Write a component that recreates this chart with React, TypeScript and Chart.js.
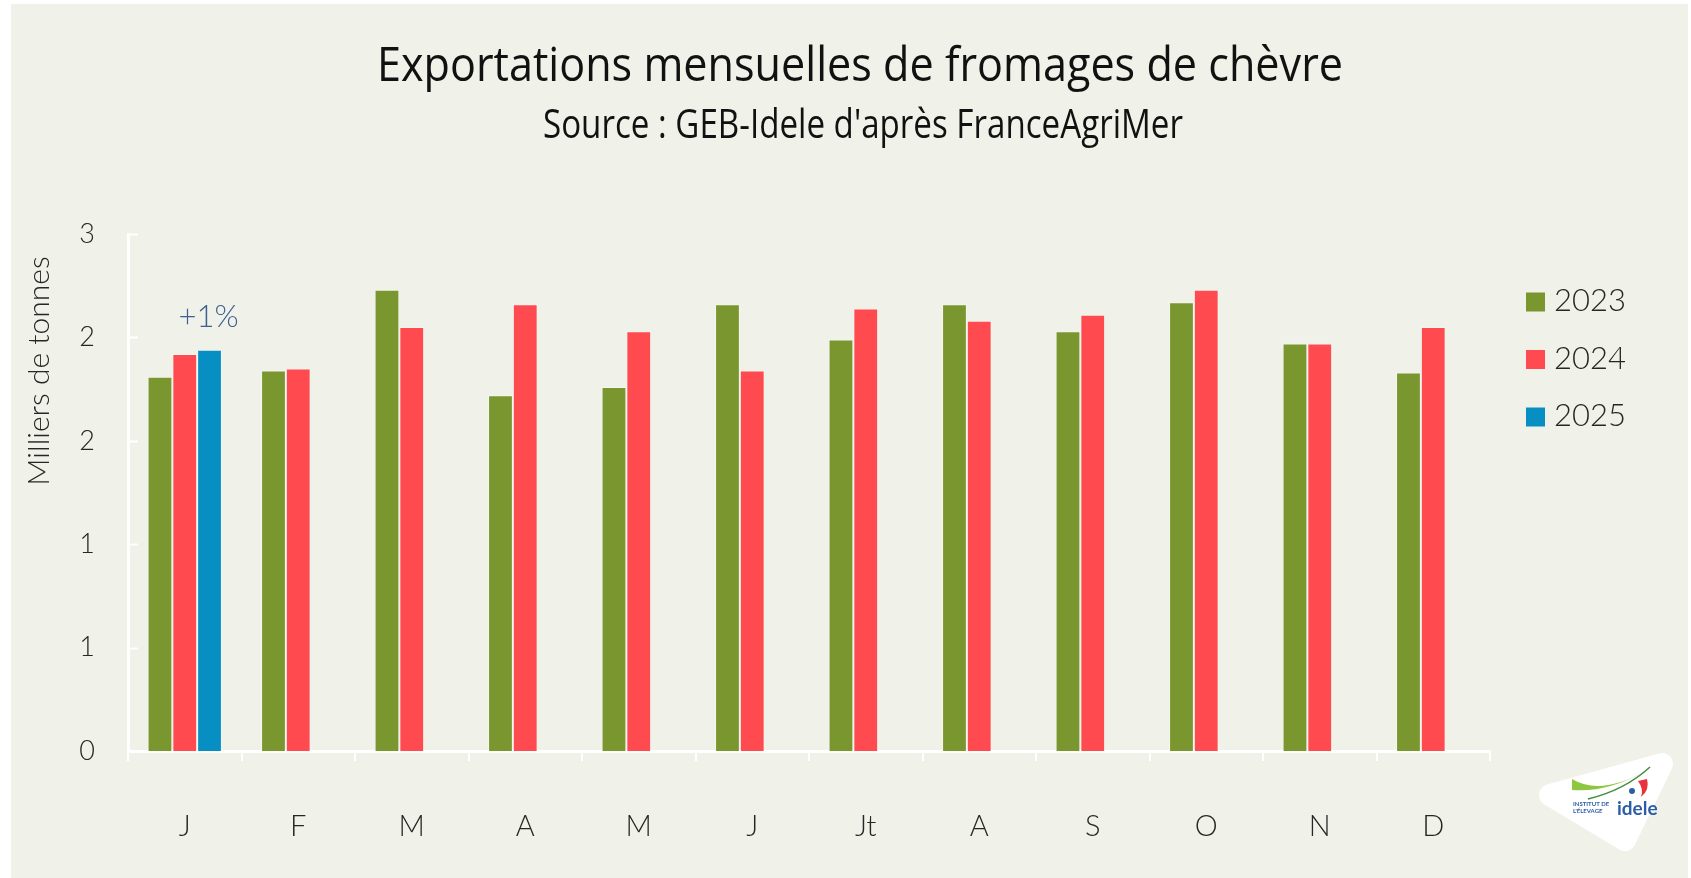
import React, { useEffect, useRef } from 'react';
import { Chart, registerables } from 'chart.js';

Chart.register(...registerables);

// ---------- data ----------
const months = ['J', 'F', 'M', 'A', 'M', 'J', 'Jt', 'A', 'S', 'O', 'N', 'D'];
const seriesNames = ['2023', '2024', '2025'];
const values2023 = [1.81, 1.84, 2.23, 1.72, 1.76, 2.16, 1.99, 2.16, 2.03, 2.17, 1.97, 1.83];
const values2024 = [1.92, 1.85, 2.05, 2.16, 2.03, 1.84, 2.14, 2.08, 2.11, 2.23, 1.97, 2.05];
const values2025 = [1.94, null, null, null, null, null, null, null, null, null, null, null];
const yTickLabels = ['0', '1', '1', '2', '2', '3'];
const annotations = [{ series: 2, index: 0, text: '+1%' }];
const titleText = 'Exportations mensuelles de fromages de chèvre';
const subtitleText = "Source : GEB-Idele d'après FranceAgriMer";
const yAxisTitle = 'Milliers de tonnes';

// ---------- styles ----------
const W = 1691;
const H = 878;
const BG = '#f0f1e8';
const COLORS = ['#7a962e', '#ff4a4f', '#078fc3'];
const TEXT = '#262626';
const FONT = 'Lato, "Open Sans", "DejaVu Sans", sans-serif';
const TITLE_FONT = '"Open Sans", "Noto Sans", sans-serif';

function drawFitted(ctx: CanvasRenderingContext2D, text: string, cx: number, baseline: number, font: string, width: number, color: string) {
  ctx.save();
  ctx.font = font;
  const w = ctx.measureText(text).width;
  const s = width / w;
  ctx.translate(cx, baseline);
  ctx.scale(s, 1);
  ctx.textAlign = 'center';
  ctx.textBaseline = 'alphabetic';
  ctx.fillStyle = color;
  ctx.fillText(text, 0, 0);
  ctx.restore();
}

const decorPlugin = {
  id: 'decor',
  beforeDraw(chart: any) {
    const ctx = chart.ctx as CanvasRenderingContext2D;
    ctx.save();
    ctx.fillStyle = '#ffffff';
    ctx.fillRect(0, 0, W, H);
    ctx.fillStyle = BG;
    ctx.fillRect(11, 4, 1677, 874);
    ctx.restore();
  },
  afterDraw(chart: any) {
    const ctx = chart.ctx as CanvasRenderingContext2D;
    const area = chart.chartArea;
    const yScale = chart.scales.y;

    // titles
    drawFitted(ctx, titleText, 860, 81, `400 47px ${TITLE_FONT}`, 966, '#111');
    drawFitted(ctx, subtitleText, 863, 138, `400 40px ${TITLE_FONT}`, 640, '#111');

    // y axis title
    ctx.save();
    ctx.translate(39, 371);
    ctx.rotate(-Math.PI / 2);
    ctx.font = `300 30px ${FONT}`;
    ctx.fillStyle = TEXT;
    ctx.textAlign = 'center';
    ctx.textBaseline = 'middle';
    ctx.fillText(yAxisTitle, 0, 0);
    ctx.restore();

    // inner y ticks
    ctx.save();
    ctx.strokeStyle = '#ffffff';
    ctx.lineWidth = 2;
    yScale.ticks.forEach((t: any) => {
      const y = Math.round(yScale.getPixelForValue(t.value)) + 0.5;
      ctx.beginPath();
      ctx.moveTo(area.left, y);
      ctx.lineTo(area.left + 10, y);
      ctx.stroke();
    });
    ctx.restore();

    // legend
    ctx.save();
    chart.data.datasets.forEach((ds: any, i: number) => {
      const cy = 302 + i * 57.5;
      ctx.fillStyle = ds.backgroundColor;
      ctx.fillRect(1526, cy - 9.5, 19, 19);
      ctx.font = `300 31px ${FONT}`;
      ctx.fillStyle = TEXT;
      ctx.textAlign = 'left';
      ctx.textBaseline = 'middle';
      ctx.fillText(ds.label, 1554, cy - 1);
    });
    ctx.restore();

    // annotations
    ctx.save();
    annotations.forEach((a) => {
      const el = chart.getDatasetMeta(a.series).data[a.index];
      if (!el) return;
      ctx.font = `300 31px ${FONT}`;
      ctx.fillStyle = '#3d5f92';
      ctx.textAlign = 'center';
      ctx.textBaseline = 'middle';
      ctx.fillText(a.text, el.x - 1, el.y - 33);
    });
    ctx.restore();

    // logo
    ctx.save();
    ctx.fillStyle = '#ffffff';
    ctx.strokeStyle = '#ffffff';
    ctx.lineJoin = 'round';
    ctx.lineWidth = 22;
    ctx.beginPath();
    ctx.moveTo(1550, 795);
    ctx.lineTo(1662, 764);
    ctx.lineTo(1625, 840);
    ctx.closePath();
    ctx.fill();
    ctx.stroke();
    // green swoosh
    ctx.fillStyle = '#8dc63f';
    ctx.beginPath();
    ctx.moveTo(1572, 779);
    ctx.quadraticCurveTo(1600, 796, 1646, 771);
    ctx.quadraticCurveTo(1606, 793, 1572, 790);
    ctx.closePath();
    ctx.fill();
    ctx.strokeStyle = '#3f8f3a';
    ctx.lineWidth = 1.5;
    ctx.beginPath();
    ctx.moveTo(1588, 799);
    ctx.quadraticCurveTo(1625, 790, 1650, 767);
    ctx.stroke();
    // red flag
    ctx.fillStyle = '#e8323c';
    ctx.beginPath();
    ctx.moveTo(1638, 781);
    ctx.lineTo(1647, 779);
    ctx.quadraticCurveTo(1650, 790, 1641, 797);
    ctx.quadraticCurveTo(1644, 789, 1638, 781);
    ctx.fill();
    ctx.fillStyle = '#2c5ea8';
    ctx.beginPath();
    ctx.arc(1632, 791, 3, 0, Math.PI * 2);
    ctx.fill();
    // texts
    ctx.fillStyle = '#2c5ea8';
    ctx.font = `700 19px ${FONT}`;
    ctx.textAlign = 'left';
    ctx.textBaseline = 'alphabetic';
    ctx.fillText('idele', 1617, 815);
    ctx.font = `700 6px ${FONT}`;
    ctx.fillText('INSTITUT DE', 1573, 806);
    ctx.fillText("L'ÉLEVAGE", 1573, 813);
    ctx.restore();
  },
};

export default function App() {
  const ref = useRef<HTMLCanvasElement | null>(null);

  useEffect(() => {
    document.body.style.margin = '0';
    document.body.style.overflow = 'hidden';
    const canvas = ref.current;
    if (!canvas) return;
    const seriesValues = [values2023, values2024, values2025];
    const chart = new Chart(canvas, {
      type: 'bar',
      data: {
        labels: months,
        datasets: seriesNames.map((name, i) => ({
          label: name,
          data: seriesValues[i],
          backgroundColor: COLORS[i],
          borderColor: 'rgba(255,255,255,0.35)',
          borderWidth: 1,
          categoryPercentage: 0.655,
          barPercentage: 1.0,
        })),
      },
      options: {
        animation: false,
        responsive: false,
        devicePixelRatio: 1,
        layout: { padding: { top: 234, right: 201, left: 0, bottom: 0 } },
        plugins: {
          legend: { display: false },
          tooltip: { enabled: false },
          title: { display: false },
        },
        scales: {
          x: {
            grid: {
              display: true,
              drawOnChartArea: false,
              drawTicks: true,
              tickLength: 10,
              color: '#ffffff',
              lineWidth: 2,
              offset: true,
            },
            border: { display: true, color: '#ffffff', width: 3 },
            ticks: {
              color: TEXT,
              font: { family: FONT, size: 29, weight: '300' },
              padding: 48,
              maxRotation: 0,
              autoSkip: false,
            },
            afterFit: (s: any) => {
              s.height = H - 751;
            },
          },
          y: {
            min: 0,
            max: 2.5,
            grid: { display: false, drawTicks: false },
            border: { display: true, color: '#ffffff', width: 3 },
            ticks: {
              stepSize: 0.5,
              padding: 33,
              color: TEXT,
              font: { family: FONT, size: 27, weight: '300' },
              callback: (_v: any, i: number) => yTickLabels[i],
            },
            afterFit: (s: any) => {
              s.width = 128;
            },
          },
        },
      },
      plugins: [decorPlugin],
    });
    return () => chart.destroy();
  }, []);

  return <canvas ref={ref} width={W} height={H} style={{ display: 'block' }} />;
}
